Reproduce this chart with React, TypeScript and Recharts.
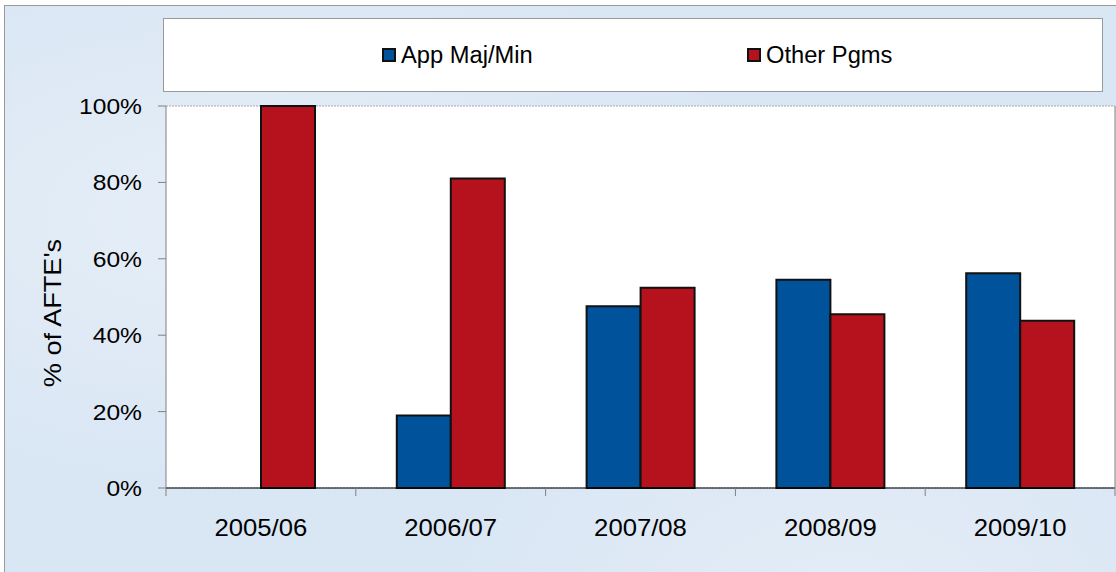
import React from 'react';
import { BarChart, Bar, XAxis, YAxis, CartesianGrid, Legend } from 'recharts';

const categories = ['2005/06', '2006/07', '2007/08', '2008/09', '2009/10'];
const appMajMin = [0, 19, 47.6, 54.5, 56.2];
const otherPgms = [100, 81, 52.4, 45.5, 43.8];
const yTicks = [0, 20, 40, 60, 80, 100];
const seriesNames = ['App Maj/Min', 'Other Pgms'];
const seriesKeys = ['app', 'other'];
const seriesColors = ['#00529B', '#B5121D'];
const yAxisTitle = "% of AFTE's";

const data = categories.map((c, i) => ({ name: c, app: appMajMin[i], other: otherPgms[i] }));

const FONT = '"Liberation Sans", Arial, sans-serif';

const LegendContent = () => (
  <div
    style={{
      width: '100%',
      height: '100%',
      boxSizing: 'border-box',
      background: '#fff',
      border: '1px solid #9a9a9a',
      display: 'flex',
      alignItems: 'center',
      justifyContent: 'center',
      gap: 218,
      paddingLeft: 4,
      fontFamily: FONT,
    }}
  >
    {seriesNames.map((n, i) => (
      <div key={n} style={{ display: 'flex', alignItems: 'center' }}>
        <span
          style={{
            display: 'inline-block',
            width: 14,
            height: 14,
            boxSizing: 'border-box',
            background: seriesColors[i],
            border: '2px solid #111',
            marginRight: 5,
          }}
        />
        <span
          style={{
            fontSize: 23,
            color: '#000',
            lineHeight: '26px',
            display: 'inline-block',
            transform: 'scaleX(1.03)',
            transformOrigin: 'left center',
          }}
        >
          {n}
        </span>
      </div>
    ))}
  </div>
);

const XTick = (props: any) => {
  const { x, y, payload, index, visibleTicksCount, width } = props;
  const half = payload && typeof payload.offset === 'number' && payload.offset > 0
    ? payload.offset
    : width / visibleTicksCount / 2;
  const last = index === visibleTicksCount - 1;
  return (
    <g>
      <line x1={x - half} y1={y} x2={x - half} y2={y + 8} stroke="#808080" strokeWidth={1} />
      {last && <line x1={x + half} y1={y} x2={x + half} y2={y + 8} stroke="#808080" strokeWidth={1} />}
      <text
        transform={`translate(${x}, ${y + 48}) scale(1.07, 1)`}
        x={0}
        y={0}
        textAnchor="middle"
        fontSize={24}
        fontFamily={FONT}
        fill="#000"
      >
        {payload.value}
      </text>
    </g>
  );
};

const YTick = (props: any) => {
  const { x, y, payload } = props;
  return (
    <text
      transform={`translate(${x}, ${y}) scale(1.12, 1)`}
      x={0}
      y={0}
      dy="0.36em"
      textAnchor="end"
      fontSize={22}
      fontFamily={FONT}
      fill="#000"
    >
      {`${payload.value}%`}
    </text>
  );
};

const YTitle = (props: any) => {
  const vb = props.viewBox || {};
  const cx = vb.x - 33;
  const cy = vb.y + vb.height / 2 + 16;
  return (
    <text
      transform={`translate(${cx}, ${cy}) rotate(-90) scale(1.13, 1)`}
      x={0}
      y={0}
      textAnchor="middle"
      dominantBaseline="central"
      fontSize={24}
      fontFamily={FONT}
      fill="#000"
    >
      {yAxisTitle}
    </text>
  );
};

export default function App() {
  return (
    <div
      style={{
        position: 'absolute',
        left: 0,
        top: 0,
        width: 1116,
        height: 572,
        overflow: 'hidden',
        background: '#fff',
        fontFamily: FONT,
      }}
    >
      <div
        style={{
          position: 'absolute',
          left: 4,
          top: 5,
          width: 1200,
          height: 700,
          border: '1px solid #9a9a9a',
          background:
            'radial-gradient(ellipse at 20% 30%, rgba(255,255,255,0.35), rgba(255,255,255,0) 40%), radial-gradient(ellipse at 70% 90%, rgba(255,255,255,0.3), rgba(255,255,255,0) 35%), #d9e6f4',
        }}
      />
      <div style={{ position: 'absolute', left: 0, top: 0 }}>
        <BarChart
          width={1116}
          height={572}
          data={data}
          margin={{ top: 106, right: 0, bottom: 34, left: 86 }}
          barCategoryGap="21.6%"
          barGap={0}
        >
          <CartesianGrid
            horizontal={true}
            vertical={false}
            stroke="#a8a8a8"
            strokeDasharray="2 1"
            fill="#ffffff"
            fillOpacity={1}
          />
          <XAxis
            dataKey="name"
            height={50}
            tickSize={0}
            tickMargin={0}
            tickLine={false}
            axisLine={{ stroke: '#000', strokeWidth: 1.2 }}
            tick={<XTick />}
            interval={0}
          />
          <YAxis
            yAxisId="left"
            width={80}
            domain={[0, 100]}
            ticks={yTicks}
            tickSize={8}
            tickMargin={16}
            tickLine={{ stroke: '#808080' }}
            axisLine={{ stroke: '#808080' }}
            tick={<YTick />}
            label={<YTitle />}
          />
          <YAxis
            yAxisId="right"
            orientation="right"
            width={1}
            domain={[0, 100]}
            tick={false}
            tickLine={false}
            axisLine={{ stroke: '#808080' }}
          />
          <Legend
            layout="horizontal"
            verticalAlign="middle"
            align="center"
            width={940}
            height={74}
            wrapperStyle={{ left: 163, top: 18, width: 940, height: 74 }}
            content={<LegendContent />}
          />
          {seriesKeys.map((k, i) => (
            <Bar
              key={k}
              yAxisId="left"
              dataKey={k}
              name={seriesNames[i]}
              fill={seriesColors[i]}
              stroke="#111"
              strokeWidth={2}
              isAnimationActive={false}
            />
          ))}
        </BarChart>
      </div>
    </div>
  );
}
